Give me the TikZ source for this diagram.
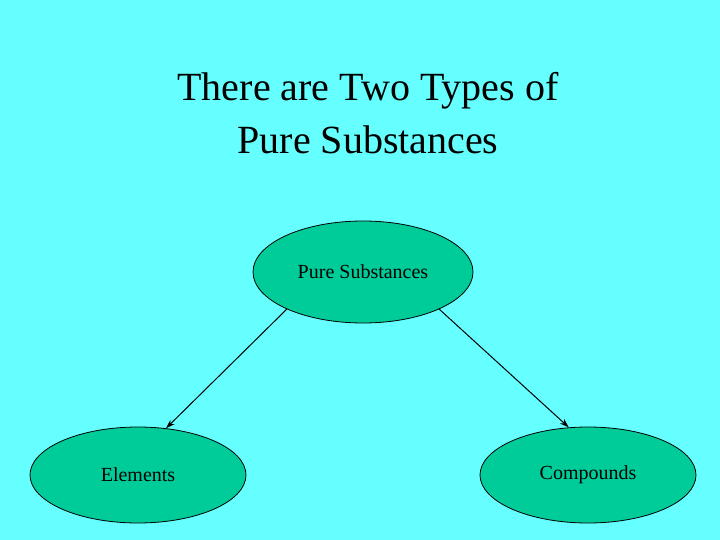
\documentclass[tikz,border=0pt]{standalone}
\usepackage{fontspec}
\setmainfont{Liberation Serif}
\usetikzlibrary{shapes.geometric,arrows.meta}
\definecolor{bg}{RGB}{102,255,255}
\definecolor{oval}{RGB}{0,204,153}
\tikzset{blob/.style={ellipse,draw=black,fill=oval,line width=0.8pt,inner sep=0pt,font=\fontsize{20}{24}\selectfont},
arr/.style={-{Stealth[length=9pt,width=6pt]},line width=1pt}}
\begin{document}
\begin{tikzpicture}[x=1pt,y=-1pt]
\fill[bg] (0,0) rectangle (720,540);
\useasboundingbox (0,0) rectangle (720,540);
\node[font=\fontsize{40}{53}\selectfont,align=center] (title) at (368,113) {There are Two Types of\\Pure Substances};
\node[blob,minimum width=220pt,minimum height=102pt] (top) at (363,272) {Pure Substances};
\node[blob,minimum width=216pt,minimum height=96pt] (el) at (138,475) {Elements};
\node[blob,minimum width=216pt,minimum height=96pt] (co) at (588,475) {Compounds};
\draw[arr] (top.206) -- (el.59);
\draw[arr] (top.334) -- (co.112);
\end{tikzpicture}
\end{document}
